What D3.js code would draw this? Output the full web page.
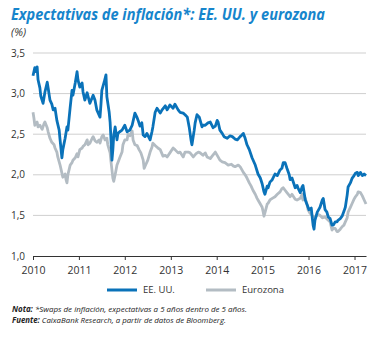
<!DOCTYPE html>
<html><head><meta charset="utf-8">
<script src="https://cdn.jsdelivr.net/npm/d3@7"></script>
<style>
html,body{margin:0;padding:0;background:#fff;}
svg{display:block;font-family:"Open Sans","Noto Sans",sans-serif;}
</style></head>
<body>
<svg id="c" width="375" height="338"></svg>
<script>
// ---- DATA (decimal years, %) ----
const usDates = [2010.00,2010.04,2010.07,2010.09,2010.11,2010.15,2010.17,2010.22,2010.26,2010.31,2010.33,2010.37,2010.41,2010.44,2010.48,2010.52,2010.57,2010.59,2010.63,2010.65,2010.70,2010.74,2010.76,2010.81,2010.85,2010.87,2010.92,2010.96,2010.98,
2011.02,2011.07,2011.09,2011.13,2011.18,2011.24,2011.31,2011.35,2011.39,2011.46,2011.48,2011.50,2011.55,2011.59,2011.61,2011.66,2011.68,2011.70,2011.72,2011.74,2011.76,2011.79,2011.83,2011.85,2011.89,2011.94,
2012.00,2012.05,2012.11,2012.16,2012.22,2012.27,2012.29,2012.33,2012.37,2012.40,2012.44,2012.48,2012.55,2012.59,2012.61,2012.66,2012.70,2012.77,2012.81,2012.88,2012.92,2012.98,
2013.05,2013.09,2013.16,2013.20,2013.27,2013.31,2013.36,2013.40,2013.44,2013.46,2013.51,2013.53,2013.57,2013.62,2013.64,2013.68,2013.70,2013.75,2013.81,2013.86,2013.92,2013.97,
2014.01,2014.03,2014.07,2014.12,2014.16,2014.23,2014.29,2014.34,2014.40,2014.45,2014.51,2014.55,2014.58,2014.62,2014.66,2014.71,2014.77,2014.84,2014.90,2014.95,2014.99,
2015.03,2015.05,2015.10,2015.12,2015.16,2015.21,2015.27,2015.32,2015.38,2015.42,2015.45,2015.49,2015.53,2015.58,2015.60,2015.64,2015.71,2015.75,2015.77,2015.82,2015.86,2015.88,2015.93,2015.97,
2016.01,2016.06,2016.08,2016.10,2016.12,2016.14,2016.19,2016.23,2016.25,2016.30,2016.32,2016.36,2016.40,2016.43,2016.47,2016.51,2016.54,2016.58,2016.62,2016.64,2016.69,2016.73,2016.77,2016.80,2016.84,2016.86,2016.91,2016.95,2016.99,
2017.02,2017.06,2017.08,2017.13,2017.17,2017.21,2017.25];
const usValues = [3.22,3.32,3.27,3.33,3.17,3.07,2.97,2.88,3.02,3.14,3.07,2.92,2.87,2.80,2.82,2.67,2.55,2.43,2.21,2.31,2.45,2.59,2.55,2.83,3.04,2.98,3.13,3.27,3.17,
3.08,3.13,3.02,2.92,3.01,2.88,2.98,2.92,2.80,2.71,2.86,3.04,3.14,3.23,2.96,2.77,2.65,2.43,2.18,2.31,2.49,2.59,2.43,2.51,2.53,2.55,
2.61,2.53,2.55,2.61,2.76,2.70,2.67,2.60,2.64,2.49,2.47,2.51,2.43,2.53,2.59,2.77,2.82,2.76,2.80,2.85,2.80,2.86,
2.82,2.87,2.80,2.77,2.76,2.74,2.71,2.59,2.43,2.37,2.55,2.64,2.74,2.71,2.67,2.59,2.61,2.61,2.64,2.65,2.58,2.60,
2.67,2.65,2.55,2.51,2.47,2.45,2.48,2.47,2.44,2.43,2.47,2.49,2.51,2.45,2.37,2.31,2.21,2.12,2.01,1.96,1.89,
1.79,1.76,1.86,1.84,1.91,1.94,2.01,1.99,2.06,2.08,2.15,2.15,2.08,2.00,1.94,1.96,1.84,1.87,1.84,1.78,1.85,1.87,1.69,1.63,
1.57,1.59,1.48,1.38,1.33,1.44,1.54,1.58,1.60,1.69,1.71,1.57,1.54,1.48,1.46,1.38,1.38,1.42,1.42,1.44,1.46,1.49,1.55,1.60,1.75,1.85,1.90,1.96,1.99,
2.02,2.03,1.99,2.03,1.99,2.01,1.99];

const euroDates = [2010.00,2010.02,2010.04,2010.09,2010.11,2010.15,2010.20,2010.24,2010.26,2010.31,2010.33,2010.37,2010.41,2010.46,2010.48,2010.52,2010.54,2010.59,2010.63,2010.65,2010.70,2010.72,2010.74,2010.76,2010.81,2010.85,2010.87,2010.92,2010.96,2010.98,
2011.02,2011.07,2011.09,2011.13,2011.18,2011.20,2011.24,2011.29,2011.31,2011.35,2011.39,2011.44,2011.46,2011.50,2011.53,2011.57,2011.61,2011.63,2011.68,2011.70,2011.72,2011.74,2011.76,2011.79,2011.83,2011.87,2011.89,2011.94,2011.96,
2012.00,2012.05,2012.07,2012.11,2012.16,2012.18,2012.22,2012.27,2012.31,2012.35,2012.40,2012.42,2012.46,2012.50,2012.55,2012.59,2012.61,2012.66,2012.72,2012.77,2012.83,2012.88,2012.92,2012.98,
2013.05,2013.09,2013.16,2013.20,2013.27,2013.31,2013.38,2013.42,2013.49,2013.55,2013.60,2013.64,2013.70,2013.75,2013.79,2013.86,2013.90,2013.97,
2014.03,2014.07,2014.12,2014.18,2014.25,2014.32,2014.36,2014.40,2014.47,2014.51,2014.55,2014.58,2014.62,2014.66,2014.71,2014.75,2014.79,2014.84,2014.88,2014.90,2014.95,2014.99,
2015.01,2015.03,2015.05,2015.10,2015.12,2015.16,2015.21,2015.27,2015.32,2015.38,2015.42,2015.45,2015.49,2015.53,2015.60,2015.64,2015.71,2015.75,2015.82,2015.86,2015.88,2015.93,2015.97,2015.99,
2016.03,2016.08,2016.10,2016.14,2016.21,2016.25,2016.30,2016.36,2016.43,2016.47,2016.51,2016.54,2016.58,2016.62,2016.64,2016.69,2016.73,2016.77,2016.80,2016.84,2016.86,2016.91,2016.95,2016.99,
2017.02,2017.06,2017.08,2017.13,2017.17,2017.21,2017.25];
const euroValues = [2.77,2.70,2.61,2.65,2.59,2.61,2.56,2.63,2.65,2.58,2.53,2.45,2.40,2.37,2.33,2.28,2.22,2.12,2.02,1.97,2.01,1.94,1.90,2.00,2.12,2.15,2.18,2.21,2.26,2.22,
2.31,2.33,2.35,2.37,2.43,2.37,2.39,2.45,2.47,2.42,2.40,2.43,2.39,2.47,2.49,2.43,2.45,2.37,2.27,2.16,2.06,1.96,1.92,2.00,2.12,2.18,2.21,2.28,2.37,
2.43,2.43,2.50,2.48,2.54,2.43,2.37,2.36,2.31,2.27,2.18,2.08,2.13,2.18,2.28,2.34,2.39,2.36,2.33,2.31,2.23,2.24,2.22,2.27,
2.33,2.31,2.27,2.28,2.22,2.28,2.28,2.27,2.22,2.26,2.28,2.27,2.24,2.27,2.22,2.20,2.23,2.28,
2.22,2.18,2.16,2.15,2.12,2.13,2.11,2.10,2.12,2.10,2.06,2.03,2.00,1.96,1.90,1.86,1.81,1.76,1.71,1.69,1.64,1.60,
1.55,1.49,1.53,1.64,1.65,1.69,1.71,1.73,1.76,1.79,1.83,1.84,1.81,1.78,1.73,1.76,1.70,1.69,1.71,1.76,1.69,1.71,1.63,1.57,
1.53,1.50,1.48,1.48,1.51,1.50,1.47,1.48,1.44,1.42,1.32,1.34,1.34,1.30,1.30,1.33,1.36,1.38,1.42,1.47,1.54,1.60,1.65,1.70,
1.73,1.76,1.79,1.78,1.74,1.69,1.64];

const yTicks = [1.0,1.5,2.0,2.5,3.0,3.5];
const xTickYears = [2010,2011,2012,2013,2014,2015,2016,2017];
const seriesNames = ["EE. UU.","Eurozona"];

// ---- helpers ----
function toDate(dy){const y=Math.floor(dy);const s=new Date(y,0,1),e=new Date(y+1,0,1);return new Date(+s+(dy-y)*(e-s));}
const us = usDates.map((d,i)=>({date:toDate(d),value:usValues[i]}));
const eu = euroDates.map((d,i)=>({date:toDate(d),value:euroValues[i]}));

const svg = d3.select("#c");
const m = {left:33,right:366,top:53,bottom:256};
const x = d3.scaleTime().domain([new Date(2010,0,1), toDate(2017.25)]).range([m.left,m.right]);
const y = d3.scaleLinear().domain([1,3.5]).range([m.bottom,m.top]);

// title
svg.append("text").attr("x",11).attr("y",20)
  .attr("font-size",16).attr("font-style","italic").attr("font-weight","bold")
  .attr("fill","#1685cc").attr("textLength",314).attr("lengthAdjust","spacingAndGlyphs")
  .text("Expectativas de inflación*:  EE. UU. y eurozona");
svg.append("text").attr("x",11).attr("y",36).attr("font-size",11).attr("font-style","italic")
  .attr("fill","#333").text("(%)");

// grid
svg.append("g").selectAll("line").data(yTicks.filter(v=>v>1)).join("line")
  .attr("x1",m.left).attr("x2",m.right).attr("y1",d=>y(d)).attr("y2",d=>y(d))
  .attr("stroke","#cfcfcf").attr("stroke-width",1);
// y labels
svg.append("g").selectAll("text").data(yTicks).join("text")
  .attr("x",11).attr("y",d=>y(d)).attr("dy","0.35em").attr("font-size",10).attr("fill","#333")
  .text(d=>d3.format(".1f")(d).replace(".",","));

// x axis
const xAxis = d3.axisBottom(x).tickValues(xTickYears.map(yy=>new Date(yy,0,1)))
  .tickFormat(d3.timeFormat("%Y")).tickSize(4).tickSizeOuter(0);
const gx = svg.append("g").attr("transform",`translate(0,${m.bottom})`).call(xAxis);
gx.select(".domain").attr("stroke","#333");
gx.selectAll(".tick line").attr("stroke","#333");
gx.selectAll(".tick text").attr("font-size",10.5).attr("fill","#333").attr("dy","1.05em")
  .attr("font-family","'Open Sans','Noto Sans',sans-serif");

// lines
const line = d3.line().x(d=>x(d.date)).y(d=>y(d.value)).curve(d3.curveLinear);
svg.append("path").datum(eu).attr("d",line).attr("fill","none").attr("stroke","#b3bcc3")
  .attr("stroke-width",2.8).attr("stroke-linejoin","round");
svg.append("path").datum(us).attr("d",line).attr("fill","none").attr("stroke","#0a72b9")
  .attr("stroke-width",2.8).attr("stroke-linejoin","round");

// legend
const colors = ["#0a72b9","#b3bcc3"];
const legX = [107,206];
seriesNames.forEach((n,i)=>{
  svg.append("line").attr("x1",legX[i]).attr("x2",legX[i]+30).attr("y1",290).attr("y2",290)
    .attr("stroke",colors[i]).attr("stroke-width",3);
  svg.append("text").attr("x",legX[i]+36).attr("y",290).attr("dy","0.35em")
    .attr("font-size",9.5).attr("fill","#333").text(n);
});

// notes
const n1 = svg.append("text").attr("x",12).attr("y",312).attr("font-size",8).attr("font-style","italic").attr("fill","#222")
  .attr("textLength",235).attr("lengthAdjust","spacingAndGlyphs");
n1.append("tspan").attr("font-weight","bold").text("Nota: ");
n1.append("tspan").text("*Swaps de inflación, expectativas a 5 años dentro de 5 años.");
const n2 = svg.append("text").attr("x",12).attr("y",323).attr("font-size",8).attr("font-style","italic").attr("fill","#222")
  .attr("textLength",214).attr("lengthAdjust","spacingAndGlyphs");
n2.append("tspan").attr("font-weight","bold").text("Fuente: ");
n2.append("tspan").text("CaixaBank Research, a partir de datos de Bloomberg.");
</script>
</body></html>
